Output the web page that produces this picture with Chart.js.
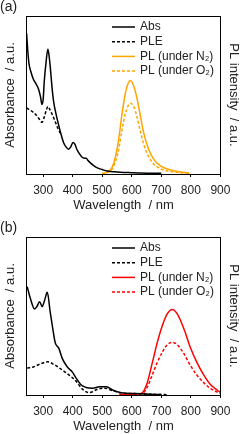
<!DOCTYPE html>
<html>
<head>
<meta charset="utf-8">
<script src="https://cdn.jsdelivr.net/npm/chart.js@4.4.0/dist/chart.umd.min.js"></script>
<style>
html, body { margin: 0; padding: 0; background: #fff; overflow: hidden; }
body { width: 244px; height: 434px; position: relative; }
.panel { position: absolute; left: 0; width: 244px; height: 217px; }
</style>
</head>
<body>
<div class="panel" style="top:0px"><canvas id="chartA" width="244" height="217"></canvas></div>
<div class="panel" style="top:221px"><canvas id="chartB" width="244" height="217"></canvas></div>
<script>
// tick labels of the wavelength axis
const xTicks = [300, 400, 500, 600, 700, 800, 900];

// (a) values (arbitrary units)
const absA_nm = [244, 248, 252, 258, 267, 276, 284, 291, 296, 300, 304, 310, 316, 320, 324, 330, 335, 346, 358, 369, 378, 386, 393, 401, 407, 414, 422, 431, 440, 446, 452, 459, 470, 482, 500, 516, 540, 561, 600, 629, 660, 700];
const absA = [0.89, 0.78, 0.70, 0.65, 0.60, 0.57, 0.54, 0.49, 0.44, 0.47, 0.59, 0.71, 0.79, 0.75, 0.68, 0.55, 0.465, 0.36, 0.27, 0.20, 0.17, 0.157, 0.17, 0.20, 0.19, 0.157, 0.13, 0.108, 0.10, 0.10, 0.085, 0.072, 0.055, 0.04, 0.028, 0.019, 0.014, 0.011, 0.008, 0.006, 0.005, 0.004];
const pleA_nm = [244, 255, 267, 280, 290, 296, 302, 310, 316, 322, 330, 338, 346, 352, 358, 362];
const pleA = [0.418, 0.405, 0.39, 0.365, 0.34, 0.327, 0.35, 0.40, 0.427, 0.41, 0.38, 0.345, 0.306, 0.28, 0.26, 0.245];
const plA_nm = [500, 516, 525, 533, 544, 555, 567, 578, 587, 595, 606, 618, 629, 640, 657, 674, 697, 731, 765, 796];
const plN2A = [0.003, 0.01, 0.022, 0.04, 0.104, 0.21, 0.38, 0.508, 0.571, 0.592, 0.56, 0.476, 0.37, 0.263, 0.157, 0.094, 0.051, 0.025, 0.012, 0.006];
const plO2A = [0.003, 0.008, 0.016, 0.03, 0.075, 0.15, 0.28, 0.38, 0.43, 0.447, 0.43, 0.36, 0.27, 0.19, 0.11, 0.064, 0.033, 0.015, 0.008, 0.004];

// (b)
const absB_nm = [246, 257, 271, 279, 288, 297, 305, 314, 324, 333, 341, 353, 365, 382, 399, 410, 428, 445, 468, 491, 514, 537, 565, 610, 655, 700];
const absB = [0.686, 0.61, 0.545, 0.56, 0.59, 0.56, 0.60, 0.65, 0.524, 0.416, 0.33, 0.297, 0.23, 0.177, 0.145, 0.112, 0.065, 0.048, 0.043, 0.052, 0.052, 0.03, 0.015, 0.009, 0.005, 0.003];
const pleB_nm = [246, 267, 288, 316, 335, 358, 382, 410, 433, 456, 485, 508, 537, 565, 610, 667, 718];
const pleB = [0.171, 0.177, 0.195, 0.21, 0.195, 0.167, 0.134, 0.091, 0.037, 0.015, 0.037, 0.043, 0.026, 0.013, 0.009, 0.005, 0.002];
const plB_nm = [558, 595, 620, 634, 651, 669, 686, 703, 720, 737, 754, 777, 799, 822, 845, 867, 890, 902];
const plN2B = [0.004, 0.005, 0.007, 0.012, 0.07, 0.2, 0.33, 0.437, 0.513, 0.541, 0.513, 0.416, 0.297, 0.2, 0.123, 0.065, 0.03, 0.015];
const plO2B = [0.0, 0.002, 0.004, 0.007, 0.045, 0.125, 0.205, 0.27, 0.318, 0.333, 0.318, 0.26, 0.185, 0.122, 0.075, 0.04, 0.018, 0.01];

const seriesLabels = ['Abs', 'PLE', 'PL (under N\u2082)', 'PL (under O\u2082)'];

Chart.defaults.font.family = '"Liberation Sans", Arial, sans-serif';
Chart.defaults.color = '#222';

function pts(nm, vals) {
    return nm.map(function (w, i) { return { x: w, y: vals[i] }; });
}

function line(label, data, color, dashed) {
    return {
        label: label,
        data: data,
        borderColor: color,
        backgroundColor: color,
        borderWidth: 1.5,
        borderDash: dashed ? [3, 2] : [],
        pointRadius: 0,
        fill: false,
        cubicInterpolationMode: 'monotone'
    };
}

// frame, legend and panel letter
const decor = {
    id: 'decor',
    afterDraw: function (chart) {
        const ctx = chart.ctx;
        const a = chart.chartArea;
        ctx.save();
        ctx.strokeStyle = '#000';
        ctx.lineWidth = 1;
        ctx.setLineDash([]);
        ctx.strokeRect(Math.round(a.left) + 0.5, Math.round(a.top) + 0.5, Math.round(a.right - a.left) - 1, Math.round(a.bottom - a.top));

        ctx.font = '12px "Liberation Sans", Arial, sans-serif';
        ctx.textBaseline = 'middle';
        chart.data.datasets.forEach(function (ds, i) {
            const y = 27 + i * 14.7;
            ctx.strokeStyle = ds.borderColor;
            ctx.lineWidth = ds.borderWidth;
            ctx.setLineDash(ds.borderDash);
            ctx.beginPath();
            ctx.moveTo(112, y);
            ctx.lineTo(135, y);
            ctx.stroke();
            ctx.setLineDash([]);
            ctx.fillStyle = '#222';
            ctx.fillText(ds.label, 140, y);
        });

        ctx.font = '14px "Liberation Sans", Arial, sans-serif';
        ctx.fillStyle = '#222';
        ctx.fillText(chart.options.plugins.decor.letter, 0, 7);
        ctx.restore();
    }
};

function makePanel(id, letter, datasets) {
    return new Chart(document.getElementById(id).getContext('2d'), {
        type: 'line',
        data: { datasets: datasets },
        plugins: [decor],
        options: {
            responsive: false,
            animation: false,
            layout: { padding: { top: 16, left: 0, right: 0, bottom: 0 } },
            scales: {
                x: {
                    type: 'linear',
                    min: 242,
                    max: 902,
                    afterBuildTicks: function (scale) {
                        scale.ticks = xTicks.map(function (v) { return { value: v }; });
                    },
                    afterFit: function (scale) { scale.height = 43; },
                    grid: { display: true, drawOnChartArea: false, drawTicks: true, tickLength: 3, color: '#000' },
                    border: { display: false },
                    ticks: { font: { size: 12 }, padding: 6, maxRotation: 0 },
                    title: { display: true, text: 'Wavelength  / nm', font: { size: 13 }, padding: { top: 0, bottom: 4 } }
                },
                y: {
                    position: 'left',
                    min: 0,
                    max: 1,
                    afterFit: function (scale) { scale.width = 26; },
                    grid: { display: false },
                    border: { display: false },
                    ticks: { display: false },
                    title: { display: true, text: 'Absorbance  / a.u.', font: { size: 13 }, padding: { top: 3, bottom: 0 } }
                },
                y2: {
                    position: 'right',
                    min: 0,
                    max: 1,
                    afterFit: function (scale) { scale.width = 23; },
                    grid: { display: false },
                    border: { display: false },
                    ticks: { display: false },
                    title: { display: true, text: 'PL intensity  / a.u.', font: { size: 13 }, padding: { top: 3, bottom: 0 } }
                }
            },
            plugins: {
                legend: { display: false },
                tooltip: { enabled: false },
                decor: { letter: letter }
            }
        }
    });
}

makePanel('chartA', '(a)', [
    line(seriesLabels[0], pts(absA_nm, absA), '#000', false),
    line(seriesLabels[1], pts(pleA_nm, pleA), '#000', true),
    line(seriesLabels[2], pts(plA_nm, plN2A), '#ffa500', false),
    line(seriesLabels[3], pts(plA_nm, plO2A), '#ffa500', true)
]);

makePanel('chartB', '(b)', [
    line(seriesLabels[0], pts(absB_nm, absB), '#000', false),
    line(seriesLabels[1], pts(pleB_nm, pleB), '#000', true),
    line(seriesLabels[2], pts(plB_nm, plN2B), '#ff0000', false),
    line(seriesLabels[3], pts(plB_nm, plO2B), '#ff0000', true)
]);
</script>
</body>
</html>
